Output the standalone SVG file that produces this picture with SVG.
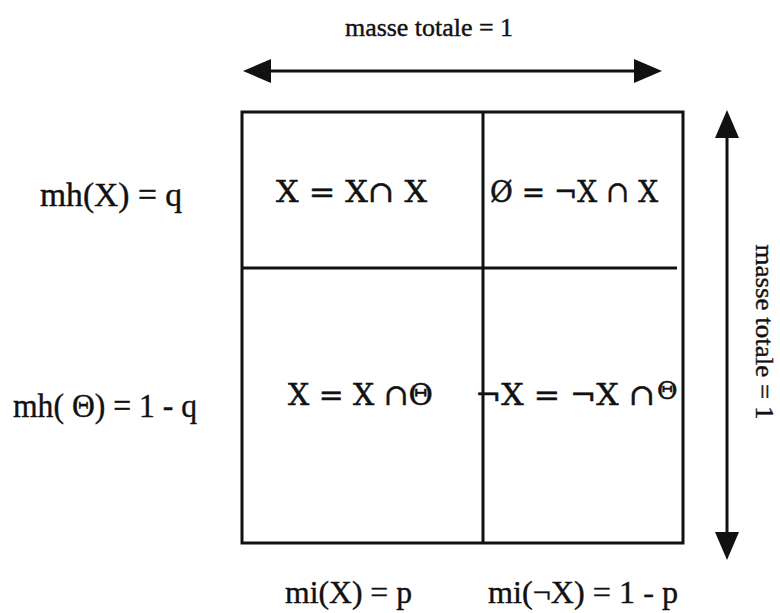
<svg xmlns="http://www.w3.org/2000/svg" width="780" height="613" viewBox="0 0 780 613">
<style>
.lbl{font-family:"Liberation Serif","Times New Roman",serif;fill:#111;stroke:#111;stroke-width:0.4}
.cell{font-family:"DejaVu Serif","Liberation Serif",serif;fill:#111;stroke:#111;stroke-width:0.5}
.ln{stroke:#111;stroke-width:3;fill:none}
.arw{stroke:#111;stroke-width:3;fill:none;marker-start:url(#ah);marker-end:url(#ah)}
</style>
<defs>
<marker id="ah" viewBox="0 0 28 24" refX="21" refY="12" markerWidth="28" markerHeight="24" markerUnits="userSpaceOnUse" orient="auto-start-reverse">
<path d="M0,0 L28,12 L0,24 Z" fill="#111"/>
</marker>
</defs>
<rect width="780" height="613" fill="#fff"/>
<g id="grid">
<rect class="ln" x="242" y="112" width="441" height="431"/>
<line class="ln" x1="483" y1="112" x2="483" y2="543"/>
<line class="ln" x1="242" y1="268" x2="677" y2="268"/>
</g>
<g id="connectors">
<line class="arw" x1="250" y1="71" x2="655" y2="71"/>
<line class="arw" x1="727" y1="117" x2="727" y2="553"/>
</g>
<g id="label-top"><text class="lbl" x="345" y="36" font-size="25" textLength="168" lengthAdjust="spacingAndGlyphs">masse totale = 1</text></g>
<g id="label-right"><text class="lbl" transform="translate(756,332) rotate(90)" text-anchor="middle" font-size="25" textLength="175" lengthAdjust="spacingAndGlyphs">masse totale = 1</text></g>
<g id="label-mhX"><text class="lbl" x="40" y="206" font-size="34" textLength="142" lengthAdjust="spacingAndGlyphs">mh(X) = q</text></g>
<g id="label-mhTheta"><text class="lbl" x="13" y="417" font-size="34" textLength="184" lengthAdjust="spacingAndGlyphs">mh( Θ) = 1 - q</text></g>
<g id="label-miX"><text class="lbl" x="285" y="603" font-size="32" textLength="127" lengthAdjust="spacingAndGlyphs">mi(X) = p</text></g>
<g id="label-miNotX"><text class="lbl" x="488" y="603" font-size="32" textLength="190" lengthAdjust="spacingAndGlyphs">mi(¬X) = 1 - p</text></g>
<g id="cell-XX"><text class="cell" x="276" y="202" font-size="30" textLength="151" lengthAdjust="spacingAndGlyphs">X = X∩ X</text></g>
<g id="cell-empty"><text class="cell" x="490" y="202" font-size="30" textLength="168" lengthAdjust="spacingAndGlyphs">Ø = ¬X ∩ X</text></g>
<g id="cell-XTheta"><text class="cell" x="288" y="405" font-size="30" textLength="145" lengthAdjust="spacingAndGlyphs">X = X ∩Θ</text></g>
<g id="cell-notXTheta"><text class="cell" x="475" y="405" font-size="30" textLength="180" lengthAdjust="spacingAndGlyphs">¬X = ¬X ∩ </text><text class="cell" x="657" y="399" font-size="25">Θ</text></g>
</svg>
